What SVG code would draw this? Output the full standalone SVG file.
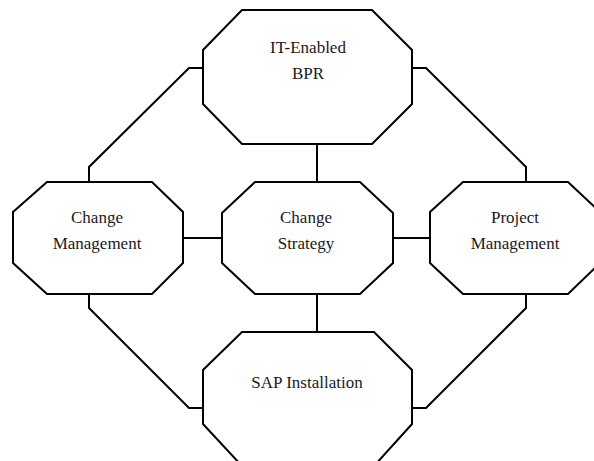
<svg xmlns="http://www.w3.org/2000/svg" width="594" height="461" viewBox="0 0 594 461">
<style>
.n{fill:#fff;stroke:#000;stroke-width:2;stroke-linejoin:miter}
.c{fill:none;stroke:#000;stroke-width:2}
text{font-family:"Liberation Serif","Times New Roman",serif;font-size:17px;fill:#1a1a1a;text-anchor:middle}
</style>
<rect width="594" height="461" fill="#fff"/>
<g id="connectors">
<polyline class="c" points="203,68 189,68 89,167 89,182"/>
<polyline class="c" points="412,68 426,68 526,167 526,182"/>
<polyline class="c" points="89,294 89,308 189,408 203,408"/>
<polyline class="c" points="526,294 526,308 426,408 412,408"/>
<line class="c" x1="317" y1="144" x2="317" y2="182"/>
<line class="c" x1="317" y1="294" x2="317" y2="332"/>
<line class="c" x1="183" y1="238" x2="222" y2="238"/>
<line class="c" x1="393" y1="238" x2="430" y2="238"/>
</g>
<g id="it-enabled-bpr">
<polygon class="n" points="242,10 372,10 412,50 412,104 372,144 242,144 203,104 203,50"/>
<text x="308" y="53">IT-Enabled</text>
<text x="308" y="79">BPR</text>
</g>
<g id="change-management">
<polygon class="n" points="47,182 152,182 183,212 183,263 152,294 47,294 13,263 13,212"/>
<text x="97" y="223">Change</text>
<text x="97" y="249">Management</text>
</g>
<g id="change-strategy">
<polygon class="n" points="255,182 360,182 393,213 393,263 360,294 255,294 222,263 222,213"/>
<text x="306" y="223">Change</text>
<text x="306" y="249">Strategy</text>
</g>
<g id="project-management">
<polygon class="n" points="463,182 568,182 600,212 600,263 568,294 463,294 430,263 430,212"/>
<text x="515" y="223">Project</text>
<text x="515" y="249">Management</text>
</g>
<g id="sap-installation">
<polygon class="n" points="242,332 374,332 412,370 412,424 374,466 242,466 203,424 203,370"/>
<text x="307" y="388">SAP Installation</text>
</g>
</svg>
